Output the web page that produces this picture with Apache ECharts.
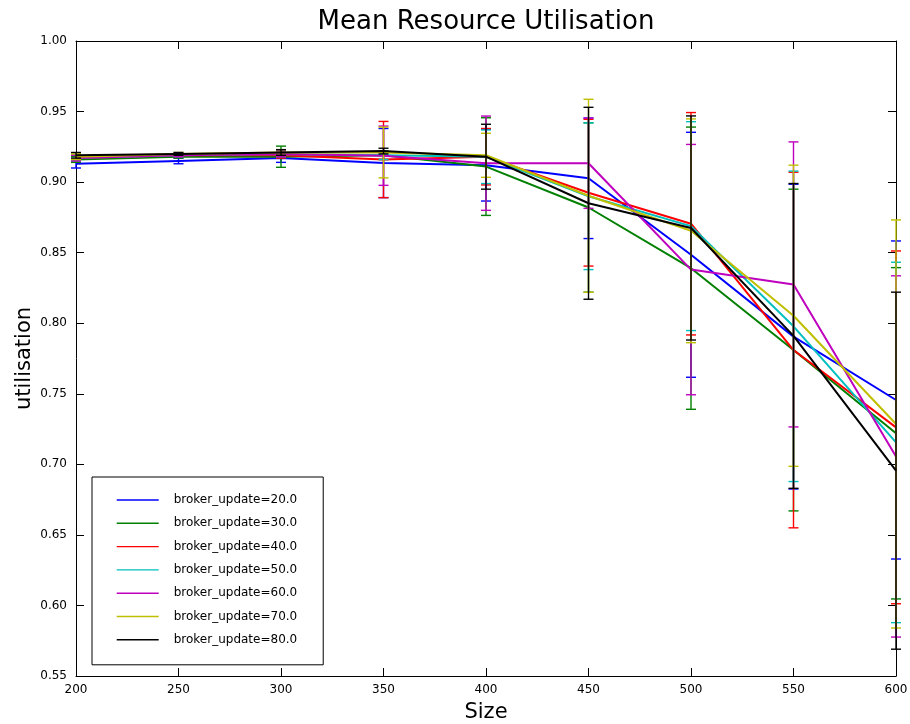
<!DOCTYPE html>
<html>
<head>
<meta charset="utf-8">
<script src="https://cdn.jsdelivr.net/npm/echarts@6/dist/echarts.min.js"></script>
<style>html,body{margin:0;padding:0;background:#fff;}#c{width:910px;height:724px;}</style>
</head>
<body>
<div id="c"></div>
<script>
const sizes = [200, 250, 300, 350, 400, 450, 500, 550, 600];
const names = ['broker_update=20.0','broker_update=30.0','broker_update=40.0','broker_update=50.0','broker_update=60.0','broker_update=70.0','broker_update=80.0'];
const colors = ['#0000ff','#008000','#ff0000','#00bfbf','#bf00bf','#bfbf00','#000000'];

const mean20 = [0.913, 0.915, 0.917, 0.9135, 0.912, 0.9027, 0.8485, 0.7905, 0.7456];
const mean30 = [0.916, 0.918, 0.918, 0.919, 0.911, 0.882, 0.839, 0.781, 0.722];
const mean40 = [0.917, 0.919, 0.919, 0.916, 0.918, 0.8925, 0.8705, 0.781, 0.7262];
const mean50 = [0.917, 0.919, 0.920, 0.919, 0.918, 0.890, 0.8688, 0.7978, 0.7155];
const mean60 = [0.917, 0.919, 0.920, 0.9187, 0.9134, 0.9134, 0.838, 0.8275, 0.7056];
const mean70 = [0.918, 0.920, 0.921, 0.921, 0.919, 0.8903, 0.8655, 0.8053, 0.7286];
const mean80 = [0.919, 0.920, 0.921, 0.922, 0.918, 0.885, 0.8675, 0.791, 0.6955];

const err20 = [0.003, 0.002, 0.003, 0.0245, 0.0254, 0.0427, 0.0868, 0.108, 0.1127];
const err30 = [0.002, 0.001, 0.0075, 0.003, 0.0346, 0.06, 0.100, 0.114, 0.1174];
const err40 = [0.002, 0.001, 0.002, 0.027, 0.020, 0.052, 0.0788, 0.126, 0.125];
const err50 = [0.002, 0.001, 0.002, 0.003, 0.019, 0.052, 0.074, 0.110, 0.1277];
const err60 = [0.002, 0.001, 0.002, 0.021, 0.0334, 0.032, 0.0887, 0.101, 0.128];
const err70 = [0.002, 0.001, 0.002, 0.018, 0.0156, 0.0684, 0.0793, 0.1067, 0.1446];
const err80 = [0.002, 0.001, 0.002, 0.002, 0.023, 0.068, 0.0794, 0.108, 0.1265];

const xTicks = [200, 250, 300, 350, 400, 450, 500, 550, 600];
const yTicks = [0.55, 0.60, 0.65, 0.70, 0.75, 0.80, 0.85, 0.90, 0.95, 1.00];

const means = [mean20, mean30, mean40, mean50, mean60, mean70, mean80];
const errs = [err20, err30, err40, err50, err60, err70, err80];

const FONT = 'DejaVu Sans';
const series = [];
means.forEach((m, i) => {
  const e = errs[i];
  series.push({
    type: 'custom',
    name: names[i] + ' err',
    z: 2 + i * 2,
    silent: true,
    renderItem: function (params, api) {
      const x = api.value(0);
      const p1 = api.coord([x, api.value(1)]);
      const p2 = api.coord([x, api.value(2)]);
      const hw = 5;
      const st = { stroke: colors[i], lineWidth: 1.4 };
      return {
        type: 'group',
        children: [
          { type: 'line', shape: { x1: p1[0], y1: p1[1], x2: p2[0], y2: p2[1] }, style: st },
          { type: 'line', shape: { x1: p1[0] - hw, y1: p1[1], x2: p1[0] + hw, y2: p1[1] }, style: st },
          { type: 'line', shape: { x1: p2[0] - hw, y1: p2[1], x2: p2[0] + hw, y2: p2[1] }, style: st }
        ]
      };
    },
    encode: { x: 0, y: [1, 2] },
    data: sizes.map((s, k) => [s, m[k] - e[k], m[k] + e[k]])
  });
  series.push({
    type: 'line',
    name: names[i],
    z: 3 + i * 2,
    symbol: 'none',
    silent: true,
    lineStyle: { color: colors[i], width: 2 },
    itemStyle: { color: colors[i] },
    data: sizes.map((s, k) => [s, m[k]])
  });
});

const axisCommon = {
  axisLine: { show: true, onZero: false, lineStyle: { color: '#000', width: 1 } },
  axisTick: { show: true, inside: true, length: 8, lineStyle: { color: '#000' } },
  splitLine: { show: false }
};

const chart = echarts.init(document.getElementById('c'), null, { renderer: 'canvas' });
chart.setOption({
  animation: false,
  backgroundColor: '#fff',
  title: {
    text: 'Mean Resource Utilisation',
    left: 486, top: 9, textAlign: 'center', padding: 0,
    textStyle: { fontFamily: FONT, fontSize: 26, fontWeight: 'normal', color: '#000' }
  },
  grid: { left: 76, right: 14, top: 41, bottom: 48, containLabel: false, outerBoundsMode: 'none' },
  legend: {
    data: names,
    orient: 'vertical',
    left: 92, top: 477,
    padding: [17, 26, 19, 24],
    itemWidth: 42, itemHeight: 14, itemGap: 11.3,
    borderColor: '#000', borderWidth: 1, backgroundColor: '#fff',
    itemStyle: { opacity: 0, color: 'rgba(0,0,0,0)', borderWidth: 0 },
    lineStyle: { width: 1.4 },
    textStyle: { fontFamily: FONT, fontSize: 12, color: '#000', padding: [0, 0, 0, 10] },
    selectedMode: false
  },
  xAxis: [
    Object.assign({
      type: 'value', min: 200, max: 600, interval: 50, position: 'bottom',
      name: 'Size', nameLocation: 'middle', nameGap: 26,
      nameTextStyle: { fontFamily: FONT, fontSize: 21, color: '#000' },
      axisLabel: { fontFamily: FONT, fontSize: 12, color: '#000', margin: 8 }
    }, axisCommon),
    Object.assign({
      type: 'value', min: 200, max: 600, interval: 50, position: 'top',
      axisLabel: { show: false }
    }, axisCommon)
  ],
  yAxis: [
    Object.assign({
      type: 'value', min: 0.55, max: 1.0, interval: 0.05, position: 'left',
      name: 'utilisation', nameLocation: 'middle', nameGap: 41, nameRotate: 90,
      nameMoveOverlap: false,
      nameTextStyle: { fontFamily: FONT, fontSize: 21, color: '#000' },
      axisLabel: { fontFamily: FONT, fontSize: 12, color: '#000', margin: 9,
        formatter: v => v.toFixed(2) }
    }, axisCommon),
    Object.assign({
      type: 'value', min: 0.55, max: 1.0, interval: 0.05, position: 'right',
      axisLabel: { show: false }
    }, axisCommon)
  ],
  series: series
});
</script>
</body>
</html>
